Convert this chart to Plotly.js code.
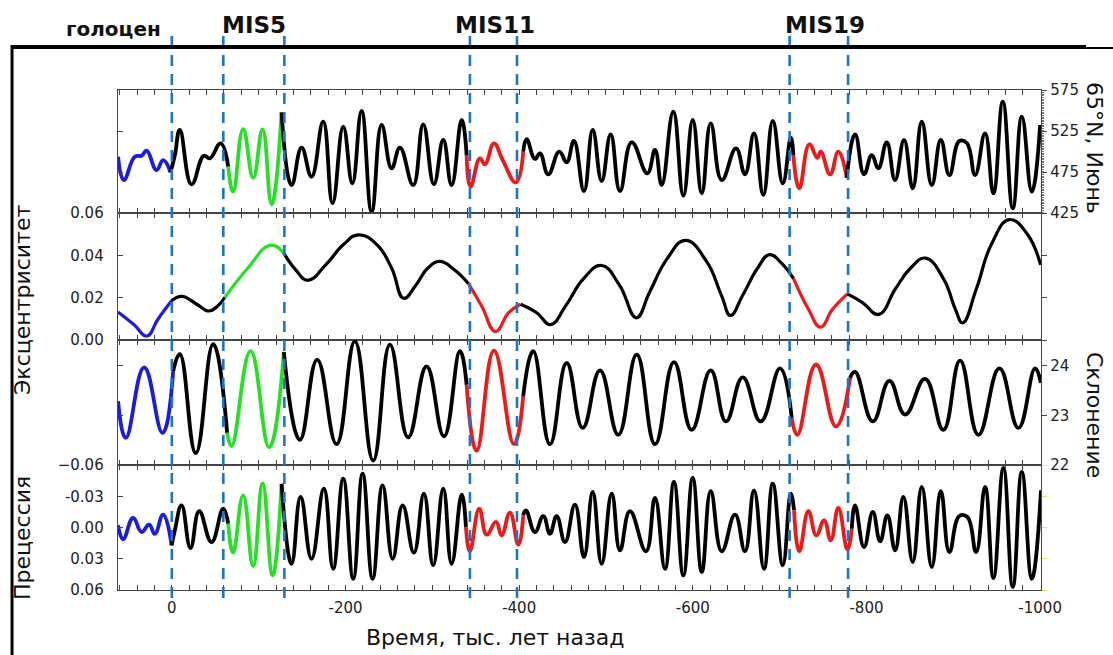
<!DOCTYPE html>
<html><head><meta charset="utf-8">
<script src="https://cdn.plot.ly/plotly-3.0.1.min.js"></script>
<style>html,body{margin:0;padding:0;background:#fff}#chart{width:1113px;height:655px}</style>
</head><body><div id="chart"></div>
<script>
// ---------- data (ages in kyr, negative = past) ----------
const insolAge = [61.9, 55.3, 42.6, 34.9, 29.1, 17.6, 10.0, 1.5,
  -3.5, -9.2, -22.7, -36.9, -43.8, -56.1, -64.9,
  -70.6, -82.1, -93.7, -104.5, -114.9, -126.4,
  -137.9, -149.4, -160.9, -174.3, -185.1, -197.4, -207.9, -218.5, -230.1, -241.6, -253.1, -262.7, -278.0, -289.5, -301.8, -312.6, -322.2, -333.8,
  -339.5, -344.1, -354.8, -360.6, -371.0, -381.0, -396.3,
  -404.7, -408.6, -418.2, -424.0, -433.5, -446.2, -454.7, -463.1, -474.7, -484.7, -495.0, -505.4, -516.1, -529.6, -547.6, -556.5, -564.2, -577.5, -589.1, -599.9, -610.3, -620.6, -633.3, -649.8, -660.1, -670.5, -681.2, -692.1, -703.6, -712.8,
  -715.8, -722.7, -734.2, -743.4, -747.4, -758.1, -767.6, -777.3,
  -786.9, -797.2, -806.1, -813.7, -823.4, -832.9, -843.3, -853.3, -863.7, -875.2, -885.6, -895.5, -907.0, -915.6, -925.1, -936.6, -946.2, -957.0, -968.5, -978.9, -990.4, -1000.0];
const insolJune65N = [493.7, 465.2, 493.7, 494.9, 501.0, 477.4, 489.6, 474.6,
  495.7, 526.2, 460.0, 494.9, 491.7, 510.0, 481.5,
  451.0, 527.4, 468.0, 527.1, 435.6, 547.8,
  459.1, 504.6, 469.3, 536.3, 436.8, 530.2, 461.2, 549.4, 426.6, 532.3, 479.5, 504.6, 459.1, 533.2, 460.0, 514.0, 459.1, 538.4,
  495.7, 457.1, 491.7, 484.4, 510.0, 489.6, 462.4,
  499.8, 515.2, 490.9, 497.8, 472.2, 499.8, 486.8, 512.8, 451.8, 526.2, 464.0, 521.0, 451.8, 511.2, 473.4, 501.8, 459.1, 548.5, 446.1, 538.4, 449.0, 534.4, 465.2, 503.9, 472.2, 522.2, 447.0, 537.2, 461.2, 516.8,
  495.7, 455.1, 508.8, 492.4, 499.8, 472.2, 499.8, 468.0,
  521.0, 472.2, 495.7, 479.5, 511.2, 465.2, 514.0, 455.1, 536.3, 459.1, 514.0, 471.3, 512.8, 510.4, 471.3, 522.2, 449.0, 560.7, 430.7, 542.4, 451.0, 532.3];

const eccAge = [62.0, 43.8, 28.6, 16.2, 0.3,
  -11.5, -28.7, -42.5, -52.9, -61.2,
  -87.4, -113.7, -128.9,
  -142.7, -156.5, -177.2, -197.9, -215.2, -235.9, -253.2, -267.0, -280.8, -294.6, -308.4, -325.7, -341.6,
  -356.8, -372.7, -387.9, -401.7,
  -420.3, -436.2, -453.5, -474.2, -494.9, -515.7, -535.0, -550.2, -570.9, -591.6, -615.8, -633.1, -643.4, -657.3, -674.5, -688.3, -702.1, -716.0,
  -733.2, -747.0, -760.9, -778.1,
  -795.4, -814.0, -833.4, -850.6, -867.9, -888.6, -902.4, -910.7, -926.6, -943.9, -964.6, -985.3, -1000.5];
const eccentricity = [0.0132, 0.0073, 0.0019, 0.0097, 0.0185,
  0.0206, 0.0169, 0.0137, 0.0161, 0.0202,
  0.0339, 0.0448, 0.0411,
  0.0331, 0.0282, 0.0355, 0.0452, 0.0497, 0.0452, 0.0339, 0.0197, 0.0258, 0.0339, 0.0371, 0.0331, 0.0266,
  0.0161, 0.0040, 0.0129, 0.0169,
  0.0129, 0.0073, 0.0161, 0.0290, 0.0352, 0.0258, 0.0105, 0.0226, 0.0387, 0.0471, 0.0371, 0.0210, 0.0116, 0.0210, 0.0339, 0.0403, 0.0363, 0.0290,
  0.0145, 0.0061, 0.0145, 0.0218,
  0.0177, 0.0121, 0.0242, 0.0339, 0.0387, 0.0290, 0.0145, 0.0081, 0.0242, 0.0452, 0.0569, 0.0500, 0.0355];

const oblAge = [61.9, 53.0, 31.9, 10.7, -1.5,
  -9.2, -27.6, -47.6, -63.7,
  -68.8, -90.7, -112.1, -129.0,
  -147.5, -167.4, -189.7, -210.8, -231.9, -251.2, -272.2, -293.4, -313.4, -331.8, -339.5,
  -351.0, -371.0, -394.0, -404.7,
  -416.2, -435.5, -454.7, -473.2, -493.1, -514.2, -535.4, -556.5, -578.3, -598.7, -620.6, -638.2, -657.5, -678.2, -700.5, -713.9,
  -720.4, -741.9, -764.9, -781.1,
  -786.9, -807.3, -826.4, -844.5, -867.5, -888.6, -907.8, -928.9, -953.1, -975.0, -994.2, -1000.8];
const obliquity = [23.29, 22.55, 23.97, 22.65, 23.89,
  24.24, 22.24, 24.44, 22.65,
  22.38, 24.30, 22.36, 24.28,
  22.51, 24.13, 22.42, 24.50, 22.09, 24.43, 22.56, 23.99, 22.58, 24.30, 23.62,
  22.29, 24.31, 22.42, 23.39,
  24.30, 22.42, 24.06, 22.75, 23.91, 22.61, 24.23, 22.42, 24.08, 22.71, 23.91, 22.88, 23.77, 22.88, 23.95, 22.95,
  22.61, 24.03, 22.78, 23.76,
  23.88, 22.88, 23.70, 23.02, 23.74, 22.71, 24.11, 22.61, 23.95, 22.75, 23.95, 23.66];

const precAge = [61.9, 56.1, 44.6, 34.9, 26.2, 19.6, 10.0, 0.3,
  -3.5, -11.2, -21.5, -31.5, -45.7, -59.1, -64.9,
  -70.6, -82.1, -93.7, -104.5, -116.0, -126.4,
  -137.9, -148.3, -160.9, -175.1, -185.8, -197.4, -208.9, -219.7, -231.2, -242.7, -254.3, -265.8, -278.8, -290.3, -301.0, -312.6, -322.2, -333.8, -338.7,
  -343.3, -354.0, -362.6, -373.3, -379.8, -389.4, -399.0, -404.7,
  -407.8, -418.2, -427.8, -435.5, -443.2, -452.8, -464.3, -474.7, -484.7, -495.0, -506.6, -516.1, -527.6, -546.1, -556.5, -568.0, -578.3, -589.1, -599.9, -610.3, -620.6, -633.3, -648.6, -660.1, -670.5, -682.0, -692.1, -703.6, -712.8, -716.6,
  -722.7, -733.1, -742.2, -751.2, -758.9, -767.6, -778.0, -783.1,
  -786.9, -797.2, -807.3, -815.7, -824.1, -833.0, -842.5, -853.3, -863.7, -875.2, -885.6, -895.5, -907.0, -916.2, -926.3, -936.6, -946.2, -957.7, -968.5, -978.9, -990.4, -1001.0];
const precession = [-0.0021, 0.0113, -0.0091, 0.0043, -0.0027, 0.0060, -0.0123, 0.0171,
  0.0027, -0.0213, 0.0197, -0.0156, 0.0139, -0.0180, -0.0036,
  0.0242, -0.0309, 0.0370, -0.0420, 0.0459, -0.0420,
  0.0348, -0.0293, 0.0300, -0.0372, 0.0396, -0.0468, 0.0492, -0.0516, 0.0492, -0.0405, 0.0300, -0.0213, 0.0242, -0.0324, 0.0363, -0.0372, 0.0348, -0.0315, -0.0005,
  0.0228, -0.0180, 0.0069, -0.0053, 0.0075, -0.0142, 0.0165, -0.0117,
  -0.0165, 0.0043, -0.0110, 0.0060, -0.0110, 0.0139, -0.0219, 0.0283, -0.0341, 0.0348, -0.0324, 0.0219, -0.0156, 0.0228, -0.0283, 0.0396, -0.0437, 0.0459, -0.0475, 0.0427, -0.0348, 0.0228, -0.0123, 0.0228, -0.0357, 0.0396, -0.0420, 0.0363, -0.0324, -0.0165,
  0.0228, -0.0156, 0.0075, -0.0069, 0.0123, -0.0187, 0.0209, 0.0012,
  -0.0213, 0.0187, -0.0149, 0.0132, -0.0117, 0.0219, -0.0293, 0.0331, -0.0389, 0.0379, -0.0348, 0.0235, -0.0110, -0.0101, 0.0235, -0.0389, 0.0485, -0.0571, 0.0571, -0.0533, 0.0492, -0.0357];

// highlighted stretches of each curve [start age, end age]
const insolSpans = {holocene:[61.9, 1.5], mis5:[-64.9, -126.4], mis11:[-339.5, -404.7], mis19:[-715.8, -777.3]};
const eccSpans   = {holocene:[62.0, 0.3], mis5:[-61.2, -128.9], mis11:[-341.6, -401.7], mis19:[-716.0, -778.1]};
const oblSpans   = {holocene:[61.9, -1.5], mis5:[-63.7, -129.0], mis11:[-339.5, -404.7], mis19:[-713.9, -781.1]};
const precSpans  = {holocene:[61.9, 0.3], mis5:[-64.9, -126.4], mis11:[-338.7, -404.7], mis19:[-716.6, -783.1]};

// stage boundaries (dashed lines), kyr
const boundaries = [0, -59.3, -129.6, -343.3, -397.5, -711.5, -778.8];

const stageLabels = ['голоцен', 'MIS5', 'MIS11', 'MIS19'];
const xTickVals = [0, -200, -400, -600, -800, -1000];
const xTickText = ['0', '-200', '-400', '-600', '-800', '-1000'];
const insTicks = [425, 475, 525, 575];
const eccTicks = [0, 0.02, 0.04, 0.06];
const eccTickText = ['0.00', '0.02', '0.04', '0.06'];
const oblTicks = [22, 23, 24];
const precTicks = [-0.06, -0.03, 0, 0.03, 0.06];
const precTickText = ['\u22120.06', '-0.03', '0.00', '0.03', '0.06'];

// ---------- build ----------
const PERIODS = ['holocene', 'mis5', 'mis11', 'mis19'];
const COLORS = {holocene: '#1c1ce0', mis5: '#26e026', mis11: '#ee1a1a', mis19: '#ee1a1a', none: '#000000'};

function build(ages, vals, spans, xa, ya, w) {
  function per(a, b) {
    for (const p of PERIODS) {
      const hi = Math.max(spans[p][0], spans[p][1]) + 1e-6, lo = Math.min(spans[p][0], spans[p][1]) - 1e-6;
      if (a <= hi && a >= lo && b <= hi && b >= lo) return p;
    }
    return 'none';
  }
  const segs = []; let cur = null;
  for (let i = 0; i < ages.length - 1; i++) {
    const p = per(ages[i], ages[i + 1]);
    if (!cur || cur.p !== p) { cur = {p: p, x: [ages[i]], y: [vals[i]]}; segs.push(cur); }
    cur.x.push(ages[i + 1]); cur.y.push(vals[i + 1]);
  }
  return segs.map(s => ({type: 'scatter', mode: 'lines', x: s.x, y: s.y, xaxis: xa, yaxis: ya,
    line: {color: COLORS[s.p], width: w, shape: 'spline', smoothing: 1.3}, hoverinfo: 'skip'}));
}
// invisible anchors so the right-hand overlay axes are drawn
function anchor(ages, vals, xa, ya) {
  return {type: 'scatter', mode: 'markers', x: [ages[0]], y: [vals[0]], xaxis: xa, yaxis: ya,
    marker: {opacity: 0, size: 1}, hoverinfo: 'skip'};
}

const traces = [].concat(
  build(insolAge, insolJune65N, insolSpans, 'x', 'y', 3.8),
  build(eccAge, eccentricity, eccSpans, 'x2', 'y2', 3.2),
  build(oblAge, obliquity, oblSpans, 'x3', 'y3', 3.8),
  build(precAge, precession, precSpans, 'x4', 'y4', 3.8),
  [anchor(insolAge, insolJune65N, 'x', 'y5'), anchor(eccAge, eccentricity, 'x2', 'y6'),
   anchor(oblAge, obliquity, 'x3', 'y7'), anchor(precAge, precession, 'x4', 'y8')]
);

const LC = '#444';
const FONT = 'DejaVu Sans, Liberation Sans, Arial, sans-serif';
function xa(anchor, labels) {
  return {anchor: anchor, domain: [0, 1], range: [62, -1001], showline: true, linecolor: LC, linewidth: 1.3,
    mirror: 'ticks', ticks: 'inside', ticklen: 5, tickcolor: LC, tickwidth: 1,
    tickmode: 'array', tickvals: xTickVals, ticktext: xTickText, showticklabels: labels,
    minor: {dtick: 20, tick0: 0, ticks: 'inside', ticklen: 5, tickcolor: LC, showgrid: false},
    ticklabelstandoff: 4,
    showgrid: false, zeroline: false, fixedrange: true, tickfont: {size: 15, color: '#222'}};
}
function ya(domain, range, side, ticks, text, labels, tickdir) {
  return {domain: domain, range: range, side: side, showline: true, linecolor: LC, linewidth: 1.3,
    ticks: tickdir, ticklen: 5, tickcolor: LC, tickmode: 'array', tickvals: ticks,
    ticktext: text || ticks.map(String), showticklabels: labels, showgrid: false, zeroline: false,
    fixedrange: true, tickfont: {size: 15, color: '#222'}};
}

const P1 = [0.754, 1], P2 = [0.5, 0.754], P3 = [0.25, 0.5], P4 = [0, 0.25];
const layout = {
  width: 1113, height: 655, margin: {l: 118, r: 72, t: 90, b: 65},
  paper_bgcolor: '#fff', plot_bgcolor: 'rgba(0,0,0,0)', showlegend: false,
  font: {family: FONT, size: 15, color: '#222'},
  xaxis: xa('y', false), xaxis2: Object.assign(xa('y2', false), {matches: 'x'}),
  xaxis3: Object.assign(xa('y3', false), {matches: 'x'}), xaxis4: Object.assign(xa('y4', true), {matches: 'x'}),
  yaxis: Object.assign(ya(P1, [425, 575], 'left', insTicks, null, false, 'inside'), {anchor: 'x'}),
  yaxis5: Object.assign(ya(P1, [425, 575], 'right', insTicks, null, true, 'outside'),
    {overlaying: 'y', anchor: 'x', minor: {dtick: 2, ticks: 'outside', ticklen: 2, tickcolor: '#777'}}),
  yaxis2: Object.assign(ya(P2, [0, 0.06], 'left', eccTicks, eccTickText, true, 'inside'), {anchor: 'x2', ticklabelstandoff: 10}),
  yaxis6: Object.assign(ya(P2, [0, 0.06], 'right', eccTicks, null, false, 'outside'), {overlaying: 'y2', anchor: 'x2'}),
  yaxis3: Object.assign(ya(P3, [22, 24.525], 'left', oblTicks, null, false, 'inside'), {anchor: 'x3'}),
  yaxis7: Object.assign(ya(P3, [22, 24.525], 'right', oblTicks, null, true, 'outside'), {overlaying: 'y3', anchor: 'x3'}),
  yaxis4: Object.assign(ya(P4, [0.06, -0.06], 'left', precTicks, precTickText, true, 'inside'), {anchor: 'x4', ticklabelstandoff: 10}),
  yaxis8: Object.assign(ya(P4, [0.06, -0.06], 'right', precTicks, null, false, 'outside'), {overlaying: 'y4', anchor: 'x4', tickcolor: '#e4e46a'}),
  shapes: [],
  annotations: []
};

boundaries.forEach(b => layout.shapes.push({type: 'line', xref: 'x', yref: 'paper', x0: b, x1: b, y0: -0.016, y1: 1.11,
  layer: 'above', line: {color: '#1976cc', width: 2.6, dash: '11px,8px'}}));
// frame
layout.shapes.push({type: 'line', xref: 'paper', yref: 'paper', x0: -0.1159, x1: 1.0488, y0: 1.086, y1: 1.086, line: {color: '#000', width: 4}});
layout.shapes.push({type: 'line', xref: 'paper', yref: 'paper', x0: 1.0488, x1: 1.08, y0: 1.084, y1: 1.084, line: {color: '#000', width: 2}});
layout.shapes.push({type: 'line', xref: 'paper', yref: 'paper', x0: -0.1148, x1: -0.1148, y0: 1.09, y1: -0.14, line: {color: '#000', width: 3}});

const stagePos = [[-0.0054, 1.122, 20], [0.1473, 1.13, 23], [0.4085, 1.13, 23], [0.766, 1.13, 23]];
stageLabels.forEach((t, i) => layout.annotations.push({text: '<b>' + t + '</b>', xref: 'paper', yref: 'paper',
  x: stagePos[i][0], y: stagePos[i][1], showarrow: false, xanchor: 'center', yanchor: 'middle',
  font: {family: FONT, size: stagePos[i][2], color: '#111'}}));

const titles = [
  ['Время, тыс. лет назад', 0.4085, -0.094, 0],
  ['Эксцентриситет', -0.104, 0.58, -90],
  ['Прецессия', -0.104, 0.104, -90],
  ['65°N, Июнь', 1.0585, 0.884, 90],
  ['Склонение', 1.0585, 0.35, 90]
];
titles.forEach(t => layout.annotations.push({text: t[0], xref: 'paper', yref: 'paper', x: t[1], y: t[2],
  textangle: t[3], showarrow: false, xanchor: 'center', yanchor: 'middle', font: {family: FONT, size: 22, color: '#111'}}));

Plotly.newPlot('chart', traces, layout, {staticPlot: true, displayModeBar: false});
</script>
</body></html>
